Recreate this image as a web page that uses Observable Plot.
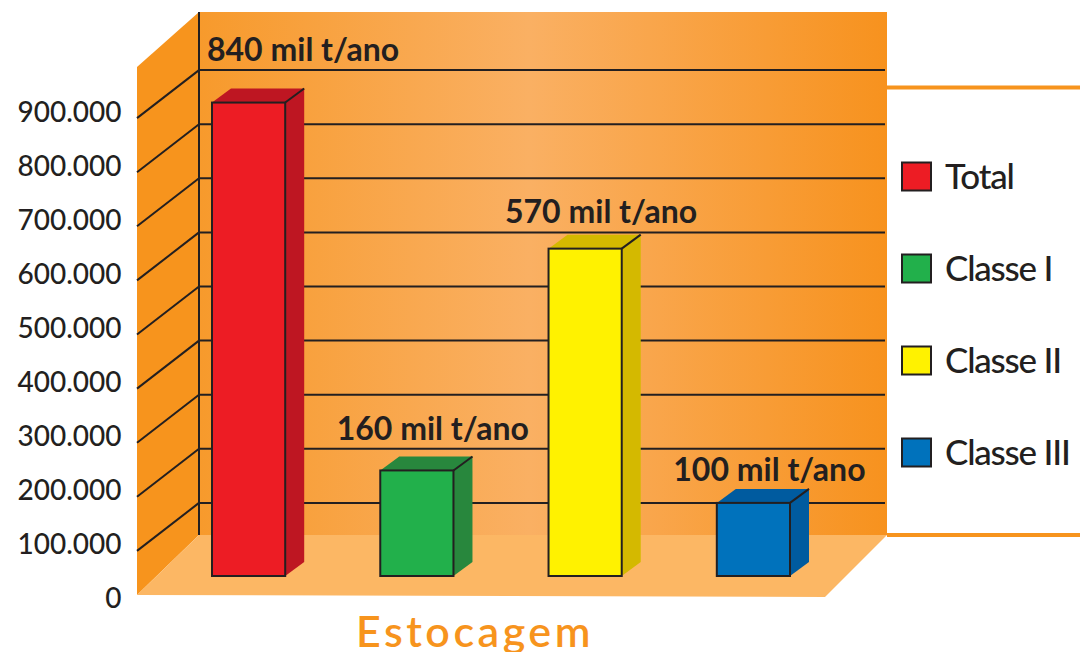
<!DOCTYPE html>
<html>
<head>
<meta charset="utf-8">
<script src="https://cdn.jsdelivr.net/npm/d3@7"></script>
<script src="https://cdn.jsdelivr.net/npm/@observablehq/plot@0.6"></script>
<style>
  html, body { margin: 0; padding: 0; background: #ffffff; }
  #chart { width: 1080px; height: 612px; }
  #title {
    width: 950px; margin-top: -3px; text-align: center;
    font-family: Lato, "Noto Sans", sans-serif; font-weight: 600;
    font-size: 43px; line-height: 43px; letter-spacing: 3.5px; color: #F7941D;
  }
</style>
</head>
<body>
<div id="chart"></div>
<div id="title"></div>
<script>
// ---- data ----
const categories = ["Total", "Classe I", "Classe II", "Classe III"];
const values = [840000, 160000, 570000, 100000];
const valueLabels = ["840 mil t/ano", "160 mil t/ano", "570 mil t/ano", "100 mil t/ano"];
const yTicks = [0, 100000, 200000, 300000, 400000, 500000, 600000, 700000, 800000, 900000];
const yTickLabels = ["0", "100.000", "200.000", "300.000", "400.000", "500.000", "600.000", "700.000", "800.000", "900.000"];
const frontColors = ["#ED1C24", "#22B04B", "#FFF200", "#0072BC"];
const sideColors = ["#BE1622", "#28873D", "#D4B900", "#005B9F"];
const chartTitle = "Estocagem";

// ---- layout (decoration geometry, pixels) ----
const L = {
  wallLeft: 199, wallRight: 887, wallTop: 12, wallBottom: 535,
  sideLeft: 137, sideTop: 67, sideBottom: 595,
  floorRight: 825, floorFront: 597,
  backDy: -42, frontDy: 6, barBaseDy: -23, barDepth: [19, -14],
  labelDx: 16, labelGap: 9,
  frameTopY: 87.5, frameBottomY: 535,
  legendX: 902, legendTextX: 945, legendTop: 176.5, legendStep: 92,
  ink: "#231F20", orange: "#F7941D"
};

const table = categories.map((c, i) => ({
  category: c, value: values[i], label: valueLabels[i], front: frontColors[i], side: sideColors[i]
}));
const gridValues = yTicks.slice(1);
const tickStep = yTicks[1] - yTicks[0];

function scenery(index, {y}) {
  const g = d3.create("svg:g");
  const grad = g.append("defs").append("linearGradient")
    .attr("id", "wallGrad").attr("x1", "0").attr("x2", "1").attr("y1", "0").attr("y2", "0");
  [["0%", "#F79A2C"], ["48%", "#FAB063"], ["100%", "#F7921E"]]
    .forEach(([o, c]) => grad.append("stop").attr("offset", o).attr("stop-color", c));
  g.append("rect").attr("x", L.wallLeft).attr("y", L.wallTop)
    .attr("width", L.wallRight - L.wallLeft).attr("height", L.wallBottom - L.wallTop)
    .attr("fill", "url(#wallGrad)");
  g.append("path")
    .attr("d", `M${L.sideLeft},${L.sideTop}L${L.wallLeft},${L.wallTop}L${L.wallLeft},${L.wallBottom}L${L.sideLeft},${L.sideBottom}Z`)
    .attr("fill", L.orange);
  g.append("path")
    .attr("d", `M${L.sideLeft},${L.sideBottom}L${L.wallLeft},${L.wallBottom}L${L.wallRight},${L.wallBottom}L${L.floorRight},${L.floorFront}Z`)
    .attr("fill", "#FCB764");
  // legend frame lines
  [L.frameTopY, L.frameBottomY].forEach(fy => {
    g.append("line").attr("x1", L.wallRight).attr("x2", 1080).attr("y1", fy).attr("y2", fy)
      .attr("stroke", L.orange).attr("stroke-width", 4);
  });
  // gridlines
  gridValues.forEach(v => {
    const yb = y(v) + L.backDy;
    g.append("line").attr("x1", L.wallLeft).attr("x2", L.wallRight - 2).attr("y1", yb).attr("y2", yb)
      .attr("stroke", L.ink).attr("stroke-width", 2);
    g.append("line").attr("x1", L.sideLeft).attr("y1", y(v) + L.frontDy).attr("x2", L.wallLeft).attr("y2", yb)
      .attr("stroke", L.ink).attr("stroke-width", 2);
  });
  g.append("line").attr("x1", L.wallLeft).attr("x2", L.wallLeft).attr("y1", L.wallTop).attr("y2", L.wallBottom)
    .attr("stroke", L.ink).attr("stroke-width", 2);
  return g.node();
}

function barSides(index, {x, y}) {
  const g = d3.create("svg:g");
  const bw = x.bandwidth();
  const [ddx, ddy] = L.barDepth;
  table.forEach(d => {
    const xl = x(d.category), xr = xl + bw;
    const top = y(d.value) + L.backDy, base = y(0) + L.barBaseDy;
    g.append("path").attr("d", `M${xr},${top}L${xr + ddx},${top + ddy}L${xr + ddx},${base + ddy}L${xr},${base}Z`)
      .attr("fill", d.side);
    g.append("path").attr("d", `M${xl},${top}L${xl + ddx},${top + ddy}L${xr + ddx},${top + ddy}L${xr},${top}Z`)
      .attr("fill", d.side);
    g.append("line").attr("x1", xr).attr("y1", top).attr("x2", xr + ddx).attr("y2", top + ddy)
      .attr("stroke", L.ink).attr("stroke-width", 2);
  });
  return g.node();
}

function valueLabelMark(index, {x, y}) {
  const fs = 32;
  const g = d3.create("svg:g").attr("font-size", fs).attr("font-weight", 700).attr("fill", L.ink);
  table.forEach(d => {
    let cx = x(d.category) + x.bandwidth() / 2 + L.labelDx;
    let anchor = "middle";
    const estHalf = d.label.length * fs * 0.235;
    if (cx - estHalf < L.wallLeft + 8) { cx = L.wallLeft + 8; anchor = "start"; }
    const gridAbove = Math.ceil(d.value / tickStep) * tickStep;
    const baseline = Math.min(y(gridAbove) + L.backDy - L.labelGap,
                              y(d.value) + L.backDy + L.barDepth[1] - 8);
    g.append("text").attr("x", cx).attr("y", baseline).attr("text-anchor", anchor).text(d.label);
  });
  return g.node();
}

function legendMark() {
  const g = d3.create("svg:g").attr("text-anchor", "start");
  categories.forEach((c, i) => {
    const cy = L.legendTop + i * L.legendStep;
    g.append("rect").attr("x", L.legendX).attr("y", cy - 14).attr("width", 29).attr("height", 28)
      .attr("fill", frontColors[i]).attr("stroke", L.ink).attr("stroke-width", 2);
    g.append("text").attr("x", L.legendTextX).attr("y", cy + 12.5).attr("text-anchor", "start")
      .attr("font-size", 35).attr("font-weight", 500).attr("letter-spacing", -1.2)
      .attr("fill", L.ink).text(c);
  });
  return g.node();
}

const chart = Plot.plot({
  width: 1080, height: 612,
  marginTop: 58, marginBottom: 13, marginLeft: 212, marginRight: 290,
  style: {fontFamily: "Lato, 'Noto Sans', sans-serif", background: "white", overflow: "visible", color: L.ink},
  x: {domain: categories, paddingInner: 0.565, paddingOuter: 0, round: false, axis: null},
  y: {domain: [0, 1000000], axis: null},
  color: {type: "identity"},
  marks: [
    scenery,
    barSides,
    Plot.barY(table, {
      x: "category", y: "value", fill: "front",
      stroke: L.ink, strokeWidth: 2,
      dy: L.backDy, insetBottom: L.backDy - L.barBaseDy
    }),
    Plot.text(yTicks, {
      y: d => d, text: (d, i) => yTickLabels[i],
      frameAnchor: "left", dx: -91, textAnchor: "end",
      fontSize: 28, fontWeight: 500, fill: L.ink
    }),
    valueLabelMark,
    legendMark
  ]
});
document.getElementById("chart").appendChild(chart);
document.getElementById("title").textContent = chartTitle;
</script>
</body>
</html>
